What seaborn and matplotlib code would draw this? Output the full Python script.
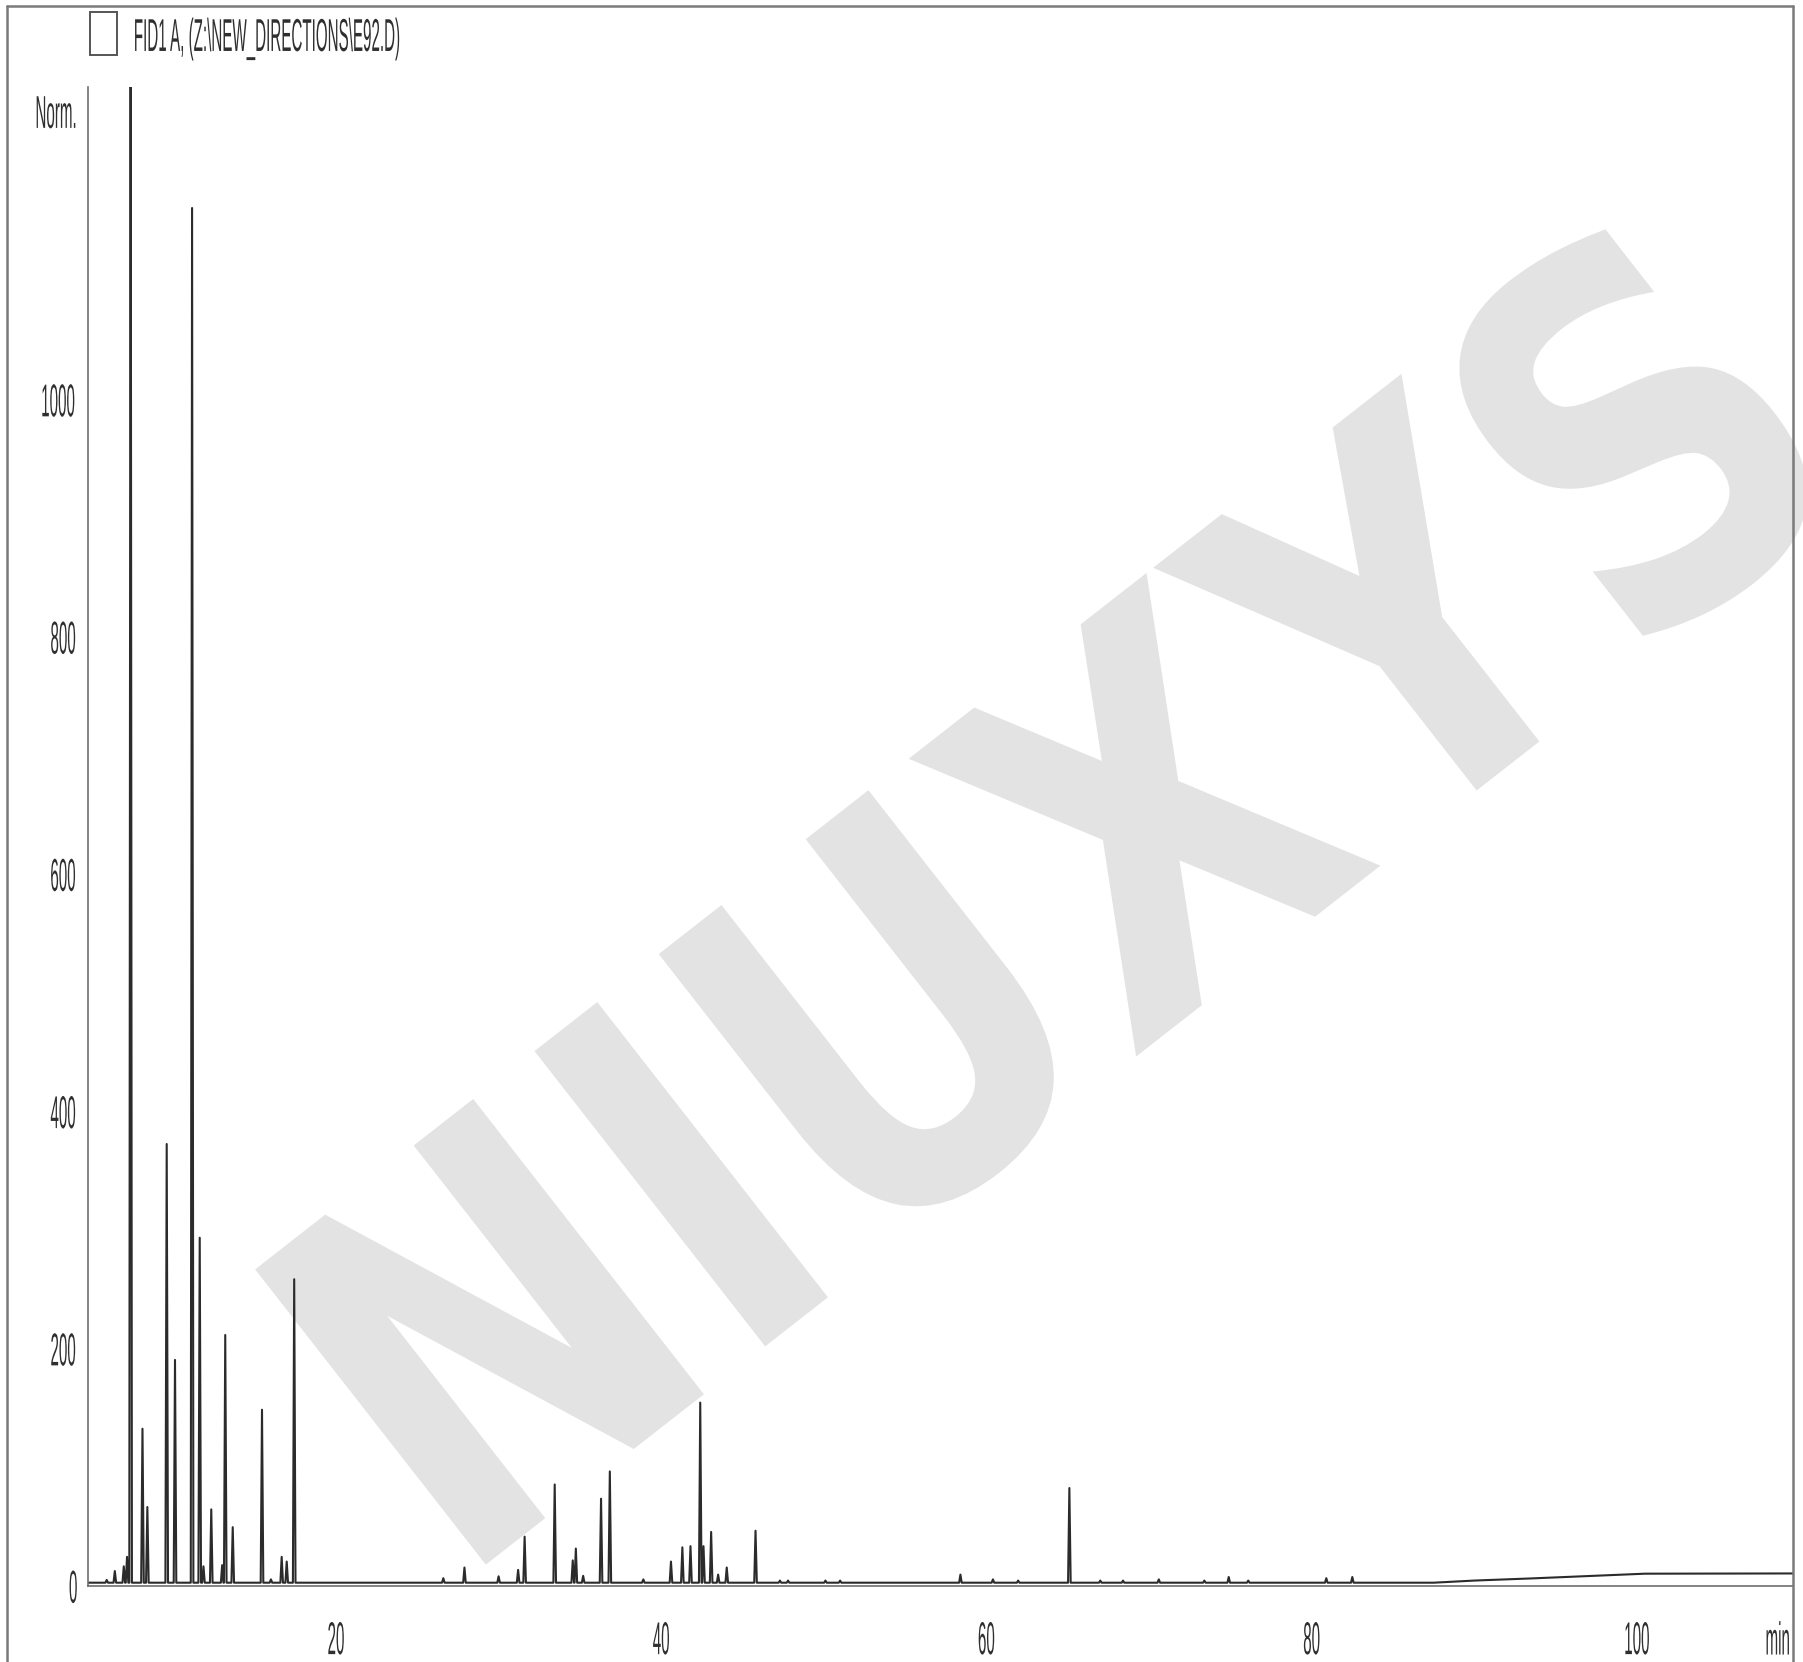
import matplotlib
matplotlib.use('Agg')
import matplotlib.pyplot as plt
import numpy as np
import pandas as pd
import seaborn as sns
from matplotlib.lines import Line2D
from matplotlib.patches import Rectangle
from matplotlib.patheffects import AbstractPathEffect
from matplotlib.transforms import Affine2D

# peaks: retention time (min) and apex height (Norm.)
peak_time = [5.9, 6.4, 6.95, 7.15, 7.37, 8.1, 8.4, 9.59, 10.1, 11.15, 11.62, 11.85,
             12.33, 13.0, 13.19, 13.65, 15.45, 16.0, 16.66, 16.97, 17.43,
             26.6, 27.9, 30.0, 31.2, 31.6, 33.45, 34.56, 34.75, 35.2, 36.3, 36.84,
             38.9, 40.6, 41.3, 41.8, 42.4, 42.6, 43.07, 43.5, 44.03, 45.8,
             47.3, 47.8, 50.1, 51.0, 58.4, 60.4, 61.95, 65.1, 67.0, 68.4,
             70.6, 73.4, 74.9, 76.1, 80.9, 82.5]
peak_height = [5.5, 13, 17, 25, 1400, 133, 67, 373, 191, 1162, 294, 17,
               65, 18, 212, 50, 149, 6, 25, 21, 259,
               7, 16, 8.6, 14, 42, 86, 22, 32, 9, 74, 97,
               6, 21, 33, 34, 155, 34, 46, 10, 16, 47,
               5, 5, 5, 5, 10, 6, 5, 83, 5, 5,
               6, 5, 8, 5, 7, 8]

# baseline drift at the end of the run
base_time = [4.75, 87.5, 90.0, 93.5, 97.0, 100.5, 109.6]
base_level = [3.2, 3.2, 5.0, 6.8, 8.8, 10.8, 11.0]

x_major = [20, 40, 60, 80, 100]
x_minor = [5, 10, 15, 25, 30, 35, 45, 50, 55, 65, 70, 75, 85, 90, 95, 105]
y_major = [0, 200, 400, 600, 800, 1000]
y_minor = [50, 100, 150, 250, 300, 350, 450, 500, 550, 650, 700, 750,
           850, 900, 950, 1050, 1100, 1150, 1200, 1250]

signal_name = 'FID1 A, (Z:\\NEW_DIRECTIONS\\E92.D)'
watermark = 'NIUXYS'


class Stretch(AbstractPathEffect):
    # squeeze / stretch the glyphs around their own centre (tall narrow ChemStation look)
    def __init__(self, sx, sy):
        super().__init__()
        self.sx = sx
        self.sy = sy

    def draw_path(self, renderer, gc, tpath, affine, rgbFace=None):
        ext = tpath.get_extents()
        cx = (ext.x0 + ext.x1) / 2
        cy = (ext.y0 + ext.y1) / 2
        scale = Affine2D().translate(-cx, -cy).scale(self.sx, self.sy).translate(cx, cy)
        renderer.draw_path(gc, tpath, scale + affine, rgbFace)


sns.set_style('white')
plt.rcParams['font.family'] = ['Liberation Sans', 'DejaVu Sans']

tall = [Stretch(0.84, 2.55)]
ink = '#2f2f2f'
axis_grey = '#6e6e6e'

# build the trace: baseline knots plus a narrow spike per peak
half = 0.08
pts = list(zip(base_time, base_level))
for t, h in zip(peak_time, peak_height):
    b = float(np.interp(t, base_time, base_level))
    pts += [(t - half, b), (t, h), (t + half, b)]
trace = pd.DataFrame(sorted(pts), columns=['min', 'Norm.'])

fig = plt.figure(figsize=(18.03, 16.62), dpi=100)
ax = fig.add_axes([0.04881, 0.04543, 0.94564, 0.90222])
ax.patch.set_visible(False)

# watermark behind the trace
fig.text(0.6242, 0.4056, watermark, rotation=38, rotation_mode='anchor',
         ha='center', va='baseline', fontsize=250, fontweight='bold',
         family='DejaVu Sans', color='#e3e3e3', zorder=-1,
         path_effects=[Stretch(1.22, 1.48)])

sns.lineplot(data=trace, x='min', y='Norm.', sort=False, estimator=None,
             color='#2b2b2b', lw=1.5, ax=ax)

ax.set_xlim(4.75, 109.6)
ax.set_ylim(0, 1264)

ax.set_xticks(x_major)
ax.set_xticks(x_minor, minor=True)
ax.set_xticklabels([str(v) for v in x_major])
ax.set_yticks(y_major)
ax.set_yticks(y_minor, minor=True)
ax.set_yticklabels([str(v) for v in y_major])

ax.tick_params(axis='x', which='major', length=19.4, width=1.1, color=axis_grey,
               pad=13, labelsize=13, labelcolor=ink)
ax.tick_params(axis='x', which='minor', length=9.4, width=1.1, color=axis_grey)
ax.tick_params(axis='y', which='major', length=6.5, width=1.1, color=axis_grey,
               pad=0.5, labelsize=13, labelcolor=ink)
ax.tick_params(axis='y', which='minor', length=2.5, width=1.1, color=axis_grey)

for lab in ax.get_xticklabels() + ax.get_yticklabels():
    lab.set_path_effects(tall)

sns.despine(ax=ax)
for side in ['left', 'bottom']:
    ax.spines[side].set_color(axis_grey)
    ax.spines[side].set_linewidth(1.2)

# axis names placed the ChemStation way
ax.set_xlabel('min', fontsize=13, color=ink)
ax.xaxis.label.set_ha('right')
ax.xaxis.label.set_va('baseline')
ax.xaxis.set_label_coords(0.99959, -0.03861)
ax.xaxis.label.set_path_effects(tall)

ax.set_ylabel('Norm.', fontsize=13, color=ink, rotation=0)
ax.yaxis.label.set_ha('center')
ax.yaxis.label.set_va('baseline')
ax.yaxis.set_label_coords(-0.01877, 0.97906)
ax.yaxis.label.set_path_effects(tall)

# signal legend at the top
fig.add_artist(Rectangle((0.04992, 0.96691), 0.01498, 0.02587, transform=fig.transFigure,
                         facecolor='white', edgecolor='#555555', lw=1.4))
fig.text(0.1478, 0.9737, signal_name, ha='center', va='baseline', fontsize=13,
         color=ink, path_effects=tall)

# outer frame of the report
frame = dict(transform=fig.transFigure, color='#7a7a7a', lw=1.8)
fig.add_artist(Line2D([0.00388, 0.00388], [0.0, 0.99639], **frame))
fig.add_artist(Line2D([0.00388, 0.99445], [0.99639, 0.99639], **frame))
fig.add_artist(Line2D([0.99445, 0.99445], [0.0, 0.99639], **frame))

fig.savefig('out.png', dpi=100)
